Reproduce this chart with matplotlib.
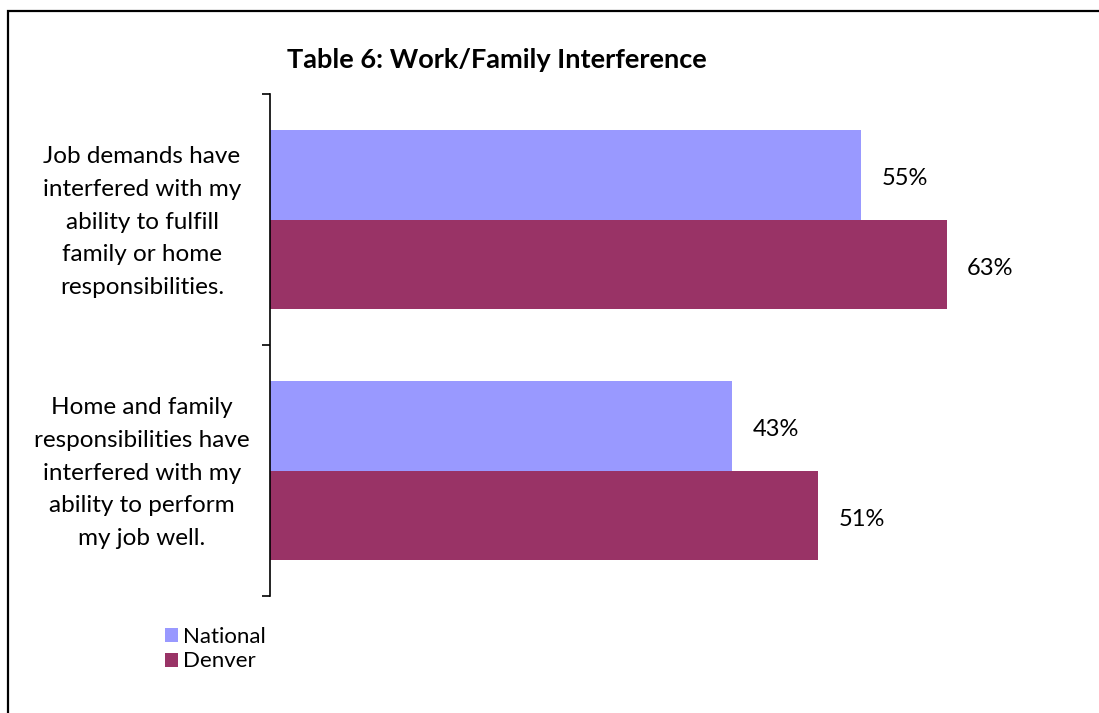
import numpy as np
import matplotlib.pyplot as plt
from matplotlib.patches import Rectangle

# Data
categories = ['Job demands have\ninterfered with my\nability to fulfill\nfamily or home\nresponsibilities.',
              'Home and family\nresponsibilities have\ninterfered with my\nability to perform\nmy job well.']
national = [55, 43]
denver = [63, 51]
series_names = ['National', 'Denver']

col_national = '#9999FF'
col_denver = '#993366'

plt.rcParams['font.family'] = ['Lato', 'DejaVu Sans']

fig = plt.figure(figsize=(10.99, 7.13), dpi=100)

# Outer frame (chart area border, cut at right/bottom)
fig.patches.append(Rectangle((8/1099, -0.1), 1.2, 1.1 - 11/713, transform=fig.transFigure,
                             fill=False, edgecolor='black', linewidth=1.6))

ax = fig.add_axes([270/1099, 1 - 596/713, 752/1099, (596 - 94)/713])

y = np.arange(len(categories))
h = 0.357
ax.barh(y - h/2, national, height=h, color=col_national, label=series_names[0])
ax.barh(y + h/2, denver, height=h, color=col_denver, label=series_names[1])

ax.set_ylim(len(categories) - 0.5, -0.5)
ax.set_xlim(0, 70)

# value labels, nudged a touch below bar centre like the original
for yy, v in zip(y - h/2, national):
    ax.text(v + 1.9, yy + 0.015, f'{v}%', va='center', ha='left', fontsize=17)
for yy, v in zip(y + h/2, denver):
    ax.text(v + 1.9, yy + 0.015, f'{v}%', va='center', ha='left', fontsize=17)

# Category labels centered left of the axis
for yy, lab in zip(y, categories):
    ax.text(-128/752, yy + 0.01, lab, transform=ax.get_yaxis_transform(), ha='center', va='center',
            fontsize=17.5, linespacing=1.68)

ax.set_yticks([])
ax.set_yticks(np.arange(-0.5, len(categories)), minor=True)
ax.tick_params(axis='y', which='minor', direction='out', length=6, width=1.2, labelleft=False)
ax.set_xticks([])
for s in ['top', 'right', 'bottom']:
    ax.spines[s].set_visible(False)
ax.spines['left'].set_linewidth(1.2)

fig.text(497/1099, 1 - 60/713, 'Table 6: Work/Family Interference', ha='center', va='center',
         fontsize=19.5, fontweight='bold')

ax.legend(loc='upper left', bbox_to_anchor=(165/1099, 1 - 627/713), bbox_transform=fig.transFigure,
          frameon=False, fontsize=16, handlelength=0.58, handleheight=0.58, handletextpad=0.25,
          labelspacing=0.2, borderpad=0, borderaxespad=0)

fig.savefig('out.png', dpi=100)
plt.close('all')
